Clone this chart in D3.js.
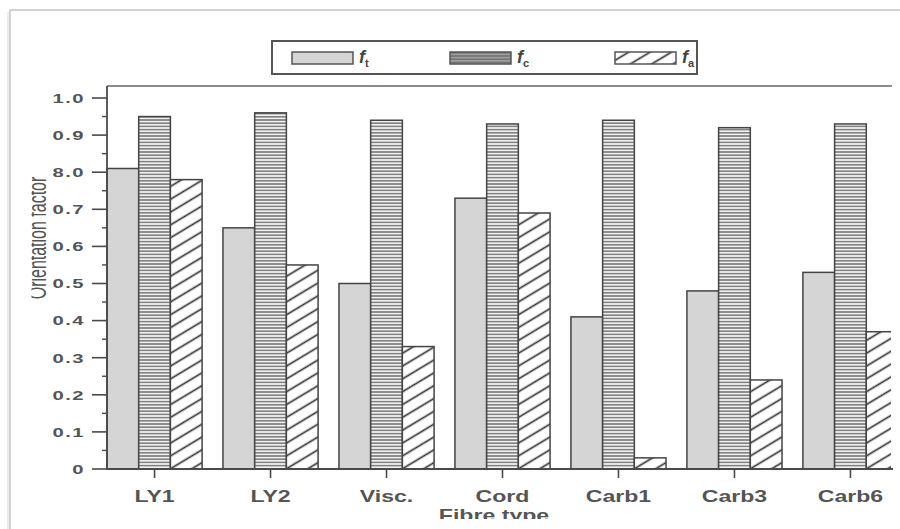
<!DOCTYPE html>
<html>
<head>
<meta charset="utf-8">
<script src="https://cdn.jsdelivr.net/npm/d3@7"></script>
<style>
  html, body { margin: 0; padding: 0; background: #fff; }
  svg { display: block; }
</style>
</head>
<body>
<svg id="chart" width="900" height="529"></svg>
<script>
// Orientation factors per fibre type
const categories = ["LY1", "LY2", "Visc.", "Cord", "Carb1", "Carb3", "Carb6"];
const ft = [0.81, 0.65, 0.50, 0.73, 0.41, 0.48, 0.53];
const fc = [0.95, 0.96, 0.94, 0.93, 0.94, 0.92, 0.93];
const fa = [0.78, 0.55, 0.33, 0.69, 0.03, 0.24, 0.37];
const seriesKeys = ["t", "c", "a"];
const yTickValues = [0, 0.1, 0.2, 0.3, 0.4, 0.5, 0.6, 0.7, 0.8, 0.9, 1.0];
const yTickLabels = ["0", "0.1", "0.2", "0.3", "0.4", "0.5", "0.6", "0.7", "8.0", "0.9", "1.0"];

const rows = categories.map((cat, i) => ({ cat, t: ft[i], c: fc[i], a: fa[i] }));

const svg = d3.select("#chart");
const ink = "#4a4a4a";
const FONT = "'Liberation Sans', Arial, sans-serif";

const plot = { left: 107, right: 892, top: 86, bottom: 469 };

const x0 = d3.scaleBand().domain(categories).range([plot.left, 898]).paddingInner(0.18).paddingOuter(0);
const x1 = d3.scaleBand().domain(seriesKeys).range([0, x0.bandwidth()]);
const y = d3.scaleLinear().domain([0, 1]).range([plot.bottom, 98]);

// ---- patterns ----
const defs = svg.append("defs");

function stripes(id, bg, line) {
  const p = defs.append("pattern").attr("id", id).attr("patternUnits", "userSpaceOnUse")
    .attr("width", 10).attr("height", 3.2);
  p.append("rect").attr("width", 10).attr("height", 3.2).attr("fill", bg);
  p.append("line").attr("x1", 0).attr("x2", 10).attr("y1", 1.6).attr("y2", 1.6)
    .attr("stroke", line).attr("stroke-width", 1.2);
}
stripes("stripes", "#f2f2f2", "#5a5a5a");
stripes("stripesLegend", "#a0a0a0", "#666");

const hatch = defs.append("pattern").attr("id", "hatch").attr("patternUnits", "userSpaceOnUse")
  .attr("width", 20).attr("height", 11).attr("patternTransform", "rotate(-31)");
hatch.append("rect").attr("width", 20).attr("height", 11).attr("fill", "#fff");
hatch.append("line").attr("x1", 0).attr("x2", 20).attr("y1", 5.5).attr("y2", 5.5)
  .attr("stroke", "#333").attr("stroke-width", 1.7);

defs.append("clipPath").attr("id", "plotClip").append("rect")
  .attr("x", 0).attr("y", 0).attr("width", 891).attr("height", 529);
defs.append("clipPath").attr("id", "yTitleClip").append("rect")
  .attr("x", 31.5).attr("y", 0).attr("width", 100).attr("height", 529);
defs.append("clipPath").attr("id", "xTitleClip").append("rect")
  .attr("x", 0).attr("y", 0).attr("width", 900).attr("height", 519);

const fills = { t: "#d5d5d5", c: "url(#stripes)", a: "url(#hatch)" };
const legendFills = { t: "#d5d5d5", c: "url(#stripesLegend)", a: "url(#hatch)" };

// ---- outer frame ----
svg.append("rect").attr("x", 10).attr("y", 10).attr("width", 900).attr("height", 540)
  .attr("fill", "none").attr("stroke", "#c4c4c4").attr("stroke-width", 1.5);
svg.append("line").attr("x1", 8).attr("x2", 8).attr("y1", 12).attr("y2", 529)
  .attr("stroke", "#e6e6e6").attr("stroke-width", 1.5);

// ---- top border of plot ----
svg.append("line").attr("x1", plot.left).attr("x2", plot.right)
  .attr("y1", plot.top).attr("y2", plot.top)
  .attr("stroke", "#8c8c8c").attr("stroke-width", 2);

// ---- bars ----
const barsG = svg.append("g").attr("clip-path", "url(#plotClip)");
const groups = barsG.selectAll("g.grp").data(rows).join("g")
  .attr("class", "grp")
  .attr("transform", d => `translate(${x0(d.cat)},0)`);

groups.selectAll("rect").data(d => seriesKeys.map(k => ({ k, v: d[k] }))).join("rect")
  .attr("x", d => x1(d.k))
  .attr("y", d => y(d.v))
  .attr("width", x1.bandwidth())
  .attr("height", d => y(0) - y(d.v))
  .attr("fill", d => fills[d.k])
  .attr("stroke", "#444")
  .attr("stroke-width", 1.5);

// ---- y axis ----
const yAxisG = svg.append("g").attr("transform", `translate(${plot.left},0)`);
yAxisG.append("line").attr("x1", 0).attr("x2", 0).attr("y1", plot.top).attr("y2", plot.bottom)
  .attr("stroke", ink).attr("stroke-width", 1.8);
const minorTicks = d3.range(0.05, 1.0, 0.1);
yAxisG.selectAll("line.minor").data(minorTicks).join("line").attr("class", "minor")
  .attr("x1", -5).attr("x2", 0).attr("y1", d => y(d)).attr("y2", d => y(d))
  .attr("stroke", ink).attr("stroke-width", 1.4);
yAxisG.selectAll("line.major").data(yTickValues).join("line").attr("class", "major")
  .attr("x1", -15).attr("x2", 0).attr("y1", d => y(d)).attr("y2", d => y(d))
  .attr("stroke", ink).attr("stroke-width", 1.6);
yAxisG.selectAll("text.ylab").data(yTickValues).join("text").attr("class", "ylab")
  .attr("transform", d => `translate(-22,${y(d)}) scale(1.5,1)`)
  .attr("text-anchor", "end")
  .attr("dy", "0.36em")
  .attr("font-family", FONT).attr("font-weight", "bold").attr("font-size", 13.5)
  .attr("letter-spacing", 1)
  .attr("fill", "#555")
  .text((d, i) => yTickLabels[i]);

// ---- x axis ----
const xAxisG = svg.append("g");
xAxisG.append("line").attr("x1", plot.left).attr("x2", 893)
  .attr("y1", plot.bottom).attr("y2", plot.bottom)
  .attr("stroke", ink).attr("stroke-width", 1.8);
xAxisG.selectAll("line.xt").data(categories).join("line").attr("class", "xt")
  .attr("x1", d => x0(d) + x0.bandwidth() / 2).attr("x2", d => x0(d) + x0.bandwidth() / 2)
  .attr("y1", plot.bottom).attr("y2", plot.bottom + 9)
  .attr("stroke", ink).attr("stroke-width", 1.6);
xAxisG.selectAll("text.xlab").data(categories).join("text").attr("class", "xlab")
  .attr("transform", d => `translate(${x0(d) + x0.bandwidth() / 2},502) scale(1.4,1)`)
  .attr("text-anchor", "middle")
  .attr("font-family", FONT).attr("font-weight", "bold").attr("font-size", 16.5)
  .attr("fill", "#555")
  .text(d => d);

// ---- axis titles ----
svg.append("g").attr("clip-path", "url(#xTitleClip)")
  .append("text")
  .attr("transform", "translate(494,521) scale(1.4,1)")
  .attr("text-anchor", "middle")
  .attr("font-family", FONT).attr("font-weight", "bold").attr("font-size", 16.5)
  .attr("fill", "#555")
  .text("Fibre type");

svg.append("g").attr("clip-path", "url(#yTitleClip)")
  .append("text")
  .attr("transform", "translate(46,238) scale(1.6,1) rotate(-90)")
  .attr("text-anchor", "middle")
  .attr("font-family", FONT).attr("font-size", 16)
  .attr("fill", "#555")
  .text("Orientation factor");

// ---- legend ----
const legend = svg.append("g");
legend.append("rect").attr("x", 272).attr("y", 41).attr("width", 425).attr("height", 33)
  .attr("fill", "#fff").attr("stroke", "#555").attr("stroke-width", 2);
const legendX = { t: 292, c: 450, a: 615 };
seriesKeys.forEach(k => {
  legend.append("rect").attr("x", legendX[k]).attr("y", 52).attr("width", 61).attr("height", 12)
    .attr("fill", legendFills[k]).attr("stroke", "#555").attr("stroke-width", 1.5);
  const t = legend.append("text").attr("x", legendX[k] + 67).attr("y", 63)
    .attr("font-family", FONT).attr("font-size", 18).attr("font-style", "italic")
    .attr("font-weight", "bold").attr("fill", "#444");
  t.append("tspan").text("f");
  t.append("tspan").attr("dy", 4).attr("font-size", 11).attr("font-style", "normal").text(k);
});
</script>
</body>
</html>
